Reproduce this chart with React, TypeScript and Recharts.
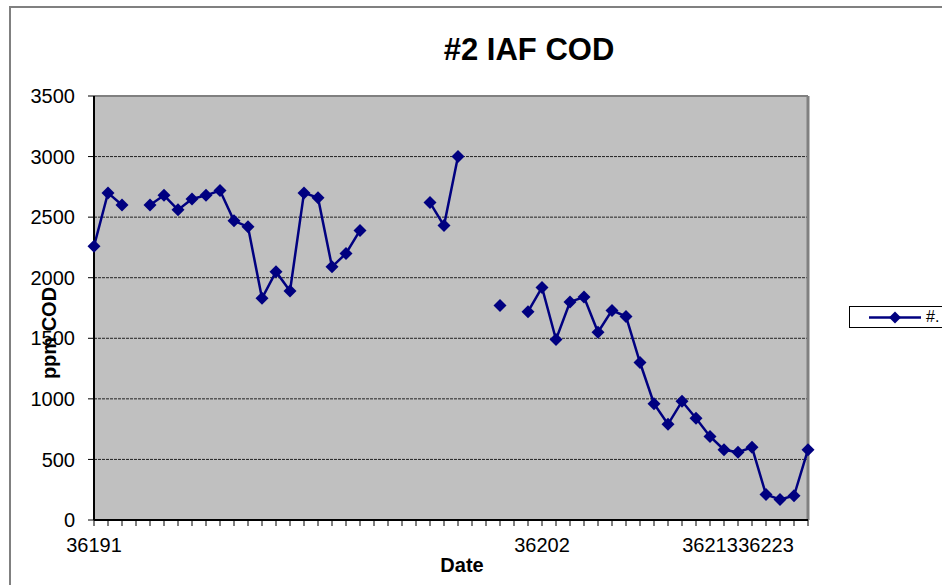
import React from 'react';
import { LineChart, Line, XAxis, YAxis, CartesianGrid, ReferenceLine, Label } from 'recharts';

// category labels: the sheet only labels a few rows, the rest are blank
const dates = [
  '36191', '', '', '', '', '', '', '', '', '', '', '', '', '', '', '', '', '', '', '', '', '', '', '', '', '', '',
  '', '', '', '', '', '36202', '', '', '', '', '', '', '', '', '', '', '', '36213', '', '', '', '36223', '', '', '',
];

// ppm COD readings, null = no sample
const cod = [
  2260, 2700, 2600, null, 2600, 2680, 2560, 2650, 2680, 2720, 2470, 2420, 1830, 2050, 1890, 2700, 2660, 2090, 2200,
  2390, null, null, null, null, 2620, 2430, 3000, null, null, 1770, null, 1720, 1920, 1490, 1800, 1840, 1550, 1730,
  1680, 1300, 960, 790, 980, 840, 690, 580, 560, 600, 210, 170, 200, 580,
];

const yTicks = [0, 500, 1000, 1500, 2000, 2500, 3000, 3500];

const NAVY = '#000080';
const FONT = '"Liberation Sans", Arial, sans-serif';

const data = cod.map((v, i) => ({ idx: i, date: dates[i], cod: v }));

const Diamond = (props: any) => {
  const { cx, cy, index } = props;
  if (cx == null || cy == null || props.value == null) return <g key={`d-${index}`} />;
  const r = 6.5;
  return (
    <polygon
      key={`d-${index}`}
      points={`${cx},${cy - r} ${cx + r},${cy} ${cx},${cy + r} ${cx - r},${cy}`}
      fill={NAVY}
      stroke="none"
    />
  );
};

export default function App() {
  return (
    <div style={{ position: 'fixed', left: 0, top: 0, width: 942, height: 585, overflow: 'hidden', background: '#fff', fontFamily: FONT }}>
      {/* chart area frame */}
      <div style={{ position: 'absolute', left: 9, top: 6, width: 1000, height: 1000, border: '2px solid #808080' }} />

      <div style={{ position: 'absolute', left: 379, top: 34, width: 300, textAlign: 'center', fontSize: 31, lineHeight: '31px', fontWeight: 'bold', color: '#000' }}>
        #2 IAF COD
      </div>

      <div style={{ position: 'absolute', left: 0, top: 0 }}>
        <LineChart width={942} height={585} data={data} margin={{ top: 96, right: 134, left: 10, bottom: 25 }}>
          <CartesianGrid fill="#C0C0C0" vertical={false} stroke="#222" strokeDasharray="3 1" />
          <XAxis
            dataKey="idx"
            height={40}
            interval={0}
            tickFormatter={(i: number) => dates[i]}
            axisLine={{ stroke: '#000', strokeWidth: 2 }}
            tickLine={{ stroke: '#000', strokeWidth: 1 }}
            tickSize={6}
            tickMargin={12}
            tick={{ fill: '#000', fontSize: 20, fontFamily: FONT }}
          >
            <Label
              content={({ viewBox }: any) => (
                <text x={viewBox.x + viewBox.width / 2 + 11} y={viewBox.y + 52} textAnchor="middle" fontSize={20} fontWeight="bold" fontFamily={FONT} fill="#000">
                  Date
                </text>
              )}
            />
          </XAxis>
          <YAxis
            width={84}
            domain={[0, 3500]}
            ticks={yTicks}
            interval={0}
            axisLine={{ stroke: '#000', strokeWidth: 2 }}
            tickLine={{ stroke: '#000', strokeWidth: 1 }}
            tickSize={6}
            tickMargin={13}
            tick={{ fill: '#000', fontSize: 20, fontFamily: FONT }}
          >
            <Label
              content={({ viewBox }: any) => {
                const x = viewBox.x + 46;
                const y = viewBox.y + viewBox.height / 2 + 25;
                return (
                  <text x={x} y={y} transform={`rotate(-90 ${x} ${y})`} textAnchor="middle" fontSize={20} fontWeight="bold" fontFamily={FONT} fill="#000">
                    ppm COD
                  </text>
                );
              }}
            />
          </YAxis>
          <ReferenceLine y={3500} stroke="#808080" strokeWidth={2} />
          <ReferenceLine x={51} stroke="#808080" strokeWidth={3} />
          <Line
            type="linear"
            dataKey="cod"
            stroke={NAVY}
            strokeWidth={2.5}
            dot={Diamond}
            activeDot={false}
            connectNulls={false}
            isAnimationActive={false}
          />
        </LineChart>
      </div>

      {/* legend */}
      <div style={{ position: 'absolute', left: 849, top: 306, width: 200, height: 20, border: '1px solid #000', background: '#fff' }}>
        <svg width={80} height={20} style={{ position: 'absolute', left: 18, top: 0 }}>
          <line x1={1} y1={10.5} x2={53} y2={10.5} stroke={NAVY} strokeWidth={2.5} />
          <polygon points="27,4.5 33,10.5 27,16.5 21,10.5" fill={NAVY} />
        </svg>
        <span style={{ position: 'absolute', left: 76, top: 1, fontSize: 16, lineHeight: '18px', color: '#000' }}>#.</span>
      </div>
    </div>
  );
}
